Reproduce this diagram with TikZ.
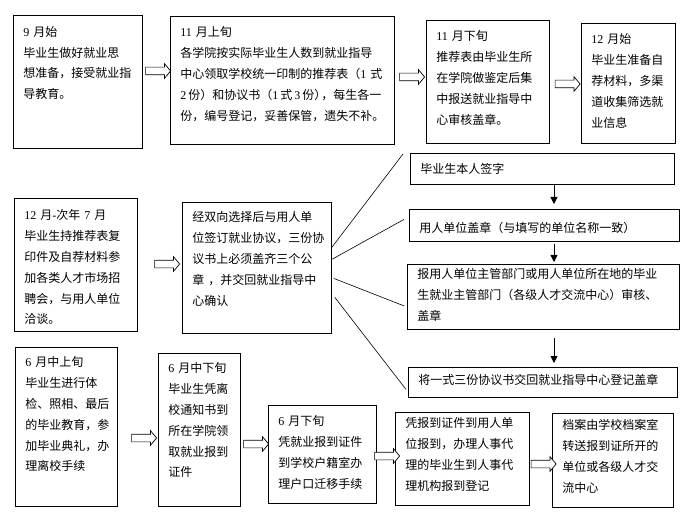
\documentclass[tikz,border=0pt]{standalone}
\usepackage{fontspec}
\setmainfont{Noto Sans CJK SC}
\newfontfamily\nmfont{Liberation Serif}
\newcommand\nm[1]{{\nmfont #1}}
\usetikzlibrary{shapes.arrows,arrows.meta}
\tikzset{%
  stage/.style  = {draw, line width=0.8bp, anchor=north west, align=left,%
                   inner xsep=10bp, inner ysep=0pt,%
                   font=\fontsize{12bp}{20.8bp}\selectfont},%
  hollow/.style = {single arrow, draw, fill=white, line width=0.7bp,%
                   inner sep=0pt, text height=7bp, text depth=0pt,%
                   minimum height=25bp, single arrow head extend=3.5bp,%
                   single arrow tip angle=100},%
  link/.style   = {line width=0.6bp},%
  down/.style   = {line width=0.8bp, -{Triangle[length=7bp,width=7bp]}}%
}
\begin{document}
\begin{tikzpicture}[x=1bp,y=-1bp]
\useasboundingbox (0,0) rectangle (684,518);
% top row
\node[stage, text width=109bp, text height=21bp, text depth=112bp] (sep) at (13,15)
  {\nm{9}~月始\\毕业生做好就业思\\想准备，接受就业指\\导教育。};
\node[stage, text width=204bp, text height=20.5bp, text depth=107.5bp] (novA) at (170,16)
  {\nm{11}~月上旬\\各学院按实际毕业生人数到就业指导\\中心领取学校统一印制的推荐表（\nm{1}~式\\\nm{2}\,份）和协议书（\nm{1}\,式\,\nm{3}\,份）\kern-5bp，每生各一\\份，编号登记，妥善保管，遗失不补。};
\node[stage, text width=103bp, text height=20.5bp, text depth=102.5bp] (novB) at (426,20)
  {\nm{11}~月下旬\\推荐表由毕业生所\\在学院做鉴定后集\\中报送就业指导中\\心审核盖章。};
\node[stage, text width=74bp, text height=20.5bp, text depth=99.5bp] (dec) at (581,23)
  {\nm{12}~月始\\毕业生准备自\\荐材料，多渠\\道收集筛选就\\业信息};
% middle row
\node[stage, text width=103bp, text height=21.5bp, text depth=111.5bp] (fair) at (14,198)
  {\nm{12}~月\nm{-}次年~\nm{7}~月\\毕业生持推荐表复\\印件及自荐材料参\\加各类人才市场招\\聘会，与用人单位\\洽谈。};
\node[stage, text width=129bp, text height=19.5bp, text depth=111.5bp] (sign) at (182,202)
  {经双向选择后与用人单\\位签订就业协议，三份协\\议书上必须盖齐三个公\\章~，并交回就业指导中\\心确认};
\node[stage, text width=244bp, text height=20.5bp, text depth=10.5bp] (selfsign) at (410,153)
  {毕业生本人签字};
\node[stage, text width=250bp, text height=23.5bp, text depth=8.5bp] (unitseal) at (409,209)
  {用人单位盖章（与填写的单位名称一致）};
\node[stage, text width=252bp, text height=14.5bp, text depth=50.5bp] (deptseal) at (407,264)
  {报用人单位主管部门或用人单位所在地的毕业\\生就业主管部门（各级人才交流中心）审核、\\盖章};
\node[stage, text width=249bp, text height=17.5bp, text depth=12.5bp] (giveback) at (408,367)
  {将一式三份协议书交回就业指导中心登记盖章};
% bottom row
\node[stage, text width=82bp, text height=19.5bp, text depth=139.5bp] (junA) at (15,347)
  {\nm{6}~月中上旬\\毕业生进行体\\检、照相、最后\\的毕业教育，参\\加毕业典礼，办\\理离校手续};
\node[stage, text width=62bp, text height=19.5bp, text depth=133.5bp] (junB) at (158,353)
  {\nm{6}~月中下旬\\毕业生凭离\\校通知书到\\所在学院领\\取就业报到\\证件};
\node[stage, text width=88bp, text height=20.5bp, text depth=77.5bp] (junC) at (268,405)
  {\nm{6}~月下旬\\凭就业报到证件\\到学校户籍室办\\理户口迁移手续};
\node[stage, text width=114bp, text height=15.5bp, text depth=77.5bp] (report) at (395,412)
  {凭报到证件到用人单\\位报到，办理人事代\\理的毕业生到人事代\\理机构报到登记};
\node[stage, text width=101bp, text height=16.5bp, text depth=77.5bp] (archive) at (552,413)
  {档案由学校档案室\\转送报到证所开的\\单位或各级人才交\\流中心};
% hollow arrows
\node[hollow] (sep-novA)    at (156.5,71) {};
\node[hollow] (novA-novB)   at (410.5,77) {};
\node[hollow] (novB-dec)    at (566,84) {};
\node[hollow] (fair-sign)   at (165.5,264) {};
\node[hollow] (junA-junB)   at (142.5,438) {};
\node[hollow] (junB-junC)   at (254.5,444) {};
\node[hollow] (junC-report) at (385.5,456) {};
\node[hollow] (report-arch) at (542,464) {};
% fan of lines
\draw[link] ([yshift=20.5bp]sign.east) -- ([xshift=-7bp,yshift=-1bp]selfsign.north west);
\draw[link] ([yshift=8.5bp]sign.east) -- ([xshift=-5bp,yshift=6bp]unitseal.west);
\draw[link] ([xshift=2bp,yshift=-10.5bp]sign.east) -- ([xshift=-3bp,yshift=-9bp]deptseal.west);
\draw[link] ([xshift=3bp,yshift=-29.5bp]sign.east) -- ([xshift=-2bp,yshift=-7bp]giveback.west);
% step arrows
\coordinate (col) at (554,0);
\draw[down, shorten >=5bp] (selfsign.south -| col) -- (unitseal.north -| col);
\draw[down, shorten <=2bp, shorten >=2bp] (unitseal.south -| col) -- (deptseal.north -| col);
\draw[down, shorten <=8bp, shorten >=4bp] (deptseal.south -| col) -- (giveback.north -| col);
\end{tikzpicture}
\end{document}
